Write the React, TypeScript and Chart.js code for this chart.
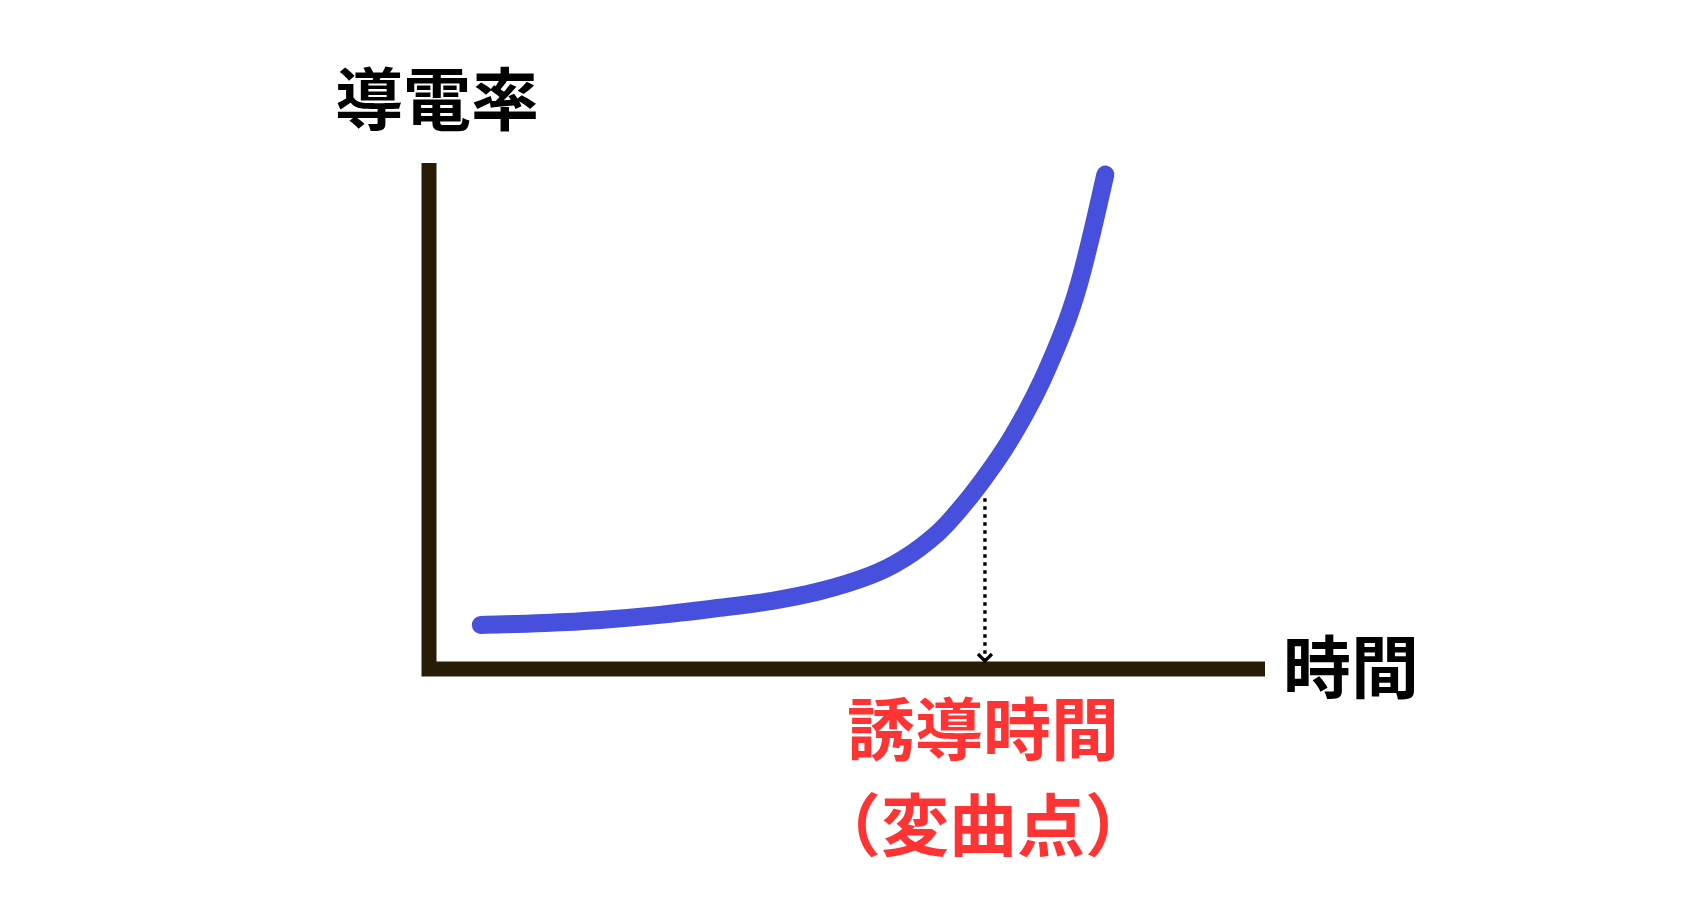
import { useEffect, useRef } from "react";
import Chart, { ChartConfiguration, Plugin } from "chart.js/auto";

// 時間(任意単位)と導電率(任意単位) — 図から読み取った曲線上の点
const timeValues = [
  0.62, 1.39, 2.05, 2.76, 3.48, 4.08, 4.68, 5.28, 5.67, 6.08,
  6.35, 6.6, 6.88, 7.13, 7.33, 7.51, 7.66, 7.78, 7.93, 8.09,
];
const conductivityValues = [
  0.87, 0.91, 0.97, 1.07, 1.21, 1.34, 1.54, 1.85, 2.17, 2.68,
  3.16, 3.68, 4.34, 5.04, 5.69, 6.37, 7.01, 7.64, 8.62, 9.77,
];

// 誘導時間(変曲点)
const inductionTime = 6.65;
const inductionConductivity = 3.79;

const yAxisTitle = "導電率";
const xAxisTitle = "時間";
const inductionLabel = ["誘導時間", "（変曲点）"];

const AXIS_COLOR = "#281c06";
const CURVE_COLOR = "#4650dc";
const LABEL_RED = "#fe3434";
const FONT = '"Noto Sans CJK JP", "Noto Sans", sans-serif';

// 軸・点線矢印・ラベルを描くプラグイン
const decorPlugin: Plugin<"line"> = {
  id: "decor",
  beforeDatasetsDraw: (chart) => {
    const ctx = chart.ctx;
    const { left, right, top, bottom } = chart.chartArea;
    ctx.save();
    // L字の軸
    ctx.strokeStyle = AXIS_COLOR;
    ctx.lineWidth = 15;
    ctx.lineCap = "butt";
    ctx.lineJoin = "miter";
    ctx.beginPath();
    ctx.moveTo(left, top);
    ctx.lineTo(left, bottom);
    ctx.lineTo(right, bottom);
    ctx.stroke();
    ctx.restore();
  },
  afterDatasetsDraw: (chart) => {
    const ctx = chart.ctx;
    const { left, right, top, bottom } = chart.chartArea;
    const xs = chart.scales["x"];
    const ys = chart.scales["y"];
    const px = xs.getPixelForValue(inductionTime);
    const py = ys.getPixelForValue(inductionConductivity);

    ctx.save();
    // 点線
    ctx.strokeStyle = "#000";
    ctx.lineWidth = 3.4;
    ctx.setLineDash([3.4, 4.6]);
    ctx.beginPath();
    ctx.moveTo(px, py + 21);
    ctx.lineTo(px, bottom - 9);
    ctx.stroke();
    // 矢印
    ctx.setLineDash([]);
    ctx.lineWidth = 3.2;
    ctx.beginPath();
    ctx.moveTo(px - 7, bottom - 15);
    ctx.lineTo(px, bottom - 8);
    ctx.lineTo(px + 7, bottom - 15);
    ctx.stroke();

    // ラベル
    ctx.font = `bold 68px ${FONT}`;
    ctx.textBaseline = "middle";
    ctx.fillStyle = "#000";
    ctx.textAlign = "left";
    ctx.fillText(yAxisTitle, left - 94, top - 64);
    ctx.fillText(xAxisTitle, right + 18, bottom - 2);

    ctx.fillStyle = LABEL_RED;
    ctx.textAlign = "center";
    ctx.fillText(inductionLabel[0], px - 2, bottom + 60);
    ctx.fillText(inductionLabel[1], px - 2, bottom + 156);
    ctx.restore();
  },
};

const App = () => {
  const chartRef = useRef<HTMLCanvasElement>(null);

  useEffect(() => {
    let myChart: Chart | null = null;
    if (chartRef.current) {
      const config: ChartConfiguration<"line"> = {
        type: "line",
        data: {
          datasets: [
            {
              data: timeValues.map((t, i) => ({ x: t, y: conductivityValues[i] })),
              borderColor: CURVE_COLOR,
              borderWidth: 18,
              borderCapStyle: "round",
              borderJoinStyle: "round",
              tension: 0.4,
              pointRadius: 0,
              fill: false,
              clip: false,
            },
          ],
        },
        options: {
          animation: false,
          responsive: true,
          maintainAspectRatio: false,
          layout: {
            padding: { left: 429, right: 435, top: 163, bottom: 247 },
          },
          plugins: {
            legend: { display: false },
            tooltip: { enabled: false },
          },
          scales: {
            x: { type: "linear", min: 0, max: 10, display: false },
            y: { type: "linear", min: 0, max: 10, display: false },
          },
        },
        plugins: [decorPlugin],
      };
      myChart = new Chart(chartRef.current, config);
    }
    return () => {
      if (myChart) {
        myChart.destroy();
      }
    };
  }, []);

  return (
    <div
      style={{
        position: "fixed",
        left: 0,
        top: 0,
        width: 1700,
        height: 916,
        background: "#fff",
      }}
    >
      <canvas ref={chartRef} />
    </div>
  );
};

export default App;
